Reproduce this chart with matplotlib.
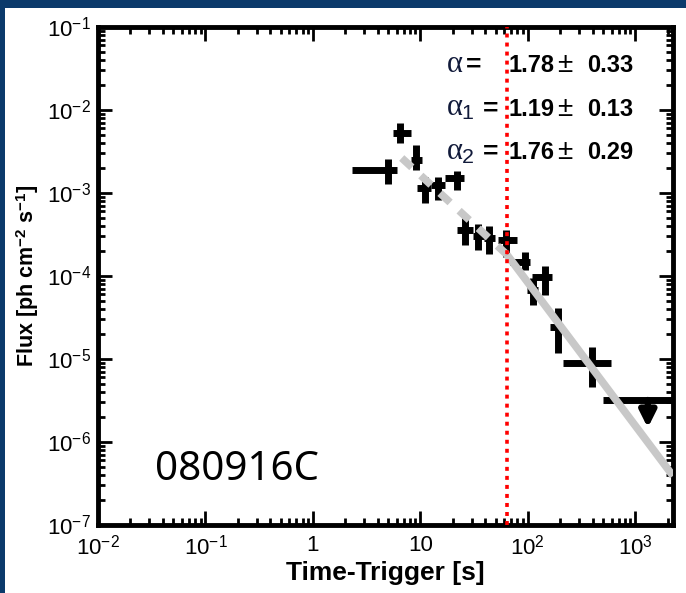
import numpy as np
import matplotlib
matplotlib.use('Agg')
import matplotlib.pyplot as plt
from matplotlib.patches import Rectangle
from matplotlib.ticker import FixedLocator, FixedFormatter, LogLocator, NullFormatter

plt.rcParams['font.family'] = ['Liberation Sans', 'DejaVu Sans']
plt.rcParams['mathtext.fontset'] = 'custom'
plt.rcParams['mathtext.rm'] = 'Liberation Sans'
plt.rcParams['mathtext.bf'] = 'Liberation Sans:bold'
plt.rcParams['mathtext.it'] = 'Liberation Serif'

# flux points: time bin (center, low, high) and flux (value, low, high)
t_mid = [4.99, 6.44, 9.08, 11.0, 14.6, 21.9, 25.9, 34.3, 43.4, 62.4, 93.8, 111, 144, 190, 394]
t_lo = [2.31, 5.55, 8.17, 9.27, 12.5, 16.9, 21.9, 30.8, 39.0, 52.6, 68.1, 98, 109, 160, 212]
t_hi = [6.04, 8.17, 10.3, 12.5, 16.9, 25.4, 30.8, 39.0, 49.3, 79.1, 104, 124, 167, 212, 592]
flux = [1.89e-3, 5.28e-3, 2.50e-3, 1.15e-3, 1.25e-3, 1.52e-3, 3.58e-4, 3.03e-4, 2.87e-4,
        2.72e-4, 1.48e-4, 6.8e-5, 9.7e-5, 2.43e-5, 8.95e-6]
flux_lo = [1.28e-3, 4.0e-3, 1.89e-3, 7.6e-4, 8.2e-4, 1.09e-3, 2.36e-4, 2.06e-4, 1.84e-4,
           1.69e-4, 1.18e-4, 4.5e-5, 5.9e-5, 1.18e-5, 4.6e-6]
flux_hi = [2.57e-3, 6.97e-3, 3.79e-3, 1.56e-3, 1.56e-3, 1.84e-3, 5.0e-4, 4.24e-4, 4.0e-4,
           3.58e-4, 1.95e-4, 9.5e-5, 1.32e-4, 4.11e-5, 1.40e-5]

# last bin is an upper limit
ul_t, ul_lo, ul_hi = 1306, 499, 2500
ul_flux, ul_arrow_to = 3.21e-6, 1.48e-6

# broken power-law fit, break at the red line
t_break = 63.8
fit1_t = [6.7, t_break]
fit1_f = [2.64e-3, 1.81e-4]
fit2_t = [t_break, 2240]
fit2_f = [1.81e-4, 3.9e-7]

fit_names = [r'$\alpha$', r'$\alpha_{1}$', r'$\alpha_{2}$']
fit_values = ['1.78', '1.19', '1.76']
fit_errors = ['0.33', '0.13', '0.29']

x_ticks = [1e-2, 1e-1, 1, 10, 1e2, 1e3]
x_tick_labels = [r'$10^{-2}$', r'$10^{-1}$', '1', '10', r'$10^{2}$', r'$10^{3}$']
y_ticks = [1e-7, 1e-6, 1e-5, 1e-4, 1e-3, 1e-2, 1e-1]
y_tick_labels = [r'$10^{-7}$', r'$10^{-6}$', r'$10^{-5}$', r'$10^{-4}$', r'$10^{-3}$',
                 r'$10^{-2}$', r'$10^{-1}$']

W, H = 686, 593
fig = plt.figure(figsize=(W / 100, H / 100), dpi=100, facecolor='#0b3a6b')
fig.patches.append(Rectangle((5 / W, 0), 1, (H - 8) / H, transform=fig.transFigure,
                             facecolor='white', edgecolor='none', zorder=-1))

ax = fig.add_axes([98 / W, 1 - 525 / H, 575 / W, 498 / H])
ax.set_zorder(2)
ax.set_xscale('log')
ax.set_yscale('log')
ax.set_xlim(1e-2, 2240)
ax.set_ylim(1e-7, 1e-1)

t_mid_a = np.array(t_mid)
flux_a = np.array(flux)
xerr = [t_mid_a - np.array(t_lo), np.array(t_hi) - t_mid_a]
yerr = [flux_a - np.array(flux_lo), np.array(flux_hi) - flux_a]
ax.errorbar(t_mid, flux, xerr=xerr, yerr=yerr, fmt='none', ecolor='black',
            elinewidth=5, capsize=0, zorder=3)

# upper limit
ax.errorbar([ul_t], [ul_flux], xerr=[[ul_t - ul_lo], [ul_hi - ul_t]], fmt='none',
            ecolor='black', elinewidth=5, capsize=0, zorder=3)
ax.annotate('', xy=(ul_t, ul_arrow_to), xytext=(ul_t, ul_flux),
            arrowprops=dict(arrowstyle='-|>', color='black', lw=4.5, mutation_scale=24,
                            shrinkA=0, shrinkB=0), zorder=3)

# fit lines
ax.plot(fit1_t, fit1_f, color='#c8c8c8', lw=5.5, linestyle=(0, (1.8, 1.6)),
        solid_capstyle='butt', zorder=4)
ax.plot(fit2_t, fit2_f, color='#c8c8c8', lw=5.5, solid_capstyle='butt', zorder=4)

ax.axvline(t_break, color='red', lw=2.6, linestyle=(0, (1.1, 1.4)), zorder=5)

# fit results, one row per index
def ax_x(px):
    return (px - 98) / 575

def ax_y(py):
    return (525 - py) / 498

row_baselines = [72, 116, 159]
eq_x = [466, 483, 483]
for name, val, err, yb, ex in zip(fit_names, fit_values, fit_errors, row_baselines, eq_x):
    y = ax_y(yb)
    ax.text(ax_x(446), y, name, transform=ax.transAxes, fontsize=22,
            color='#111a3a', va='baseline', ha='left', zorder=6)
    ax.text(ax_x(ex), y, '=', transform=ax.transAxes, fontsize=19,
            fontweight='bold', va='baseline', ha='left', zorder=6)
    ax.text(ax_x(509), y, val, transform=ax.transAxes, fontsize=17,
            fontweight='bold', va='baseline', ha='left', zorder=6)
    ax.text(ax_x(557), y, r'$\pm$', transform=ax.transAxes, fontsize=20,
            va='baseline', ha='left', zorder=6)
    ax.text(ax_x(587), y, err, transform=ax.transAxes, fontsize=17,
            fontweight='bold', va='baseline', ha='left', zorder=6)

ax.text(ax_x(155), ax_y(480), '080916C', transform=ax.transAxes, fontsize=29,
        family='Noto Sans', va='baseline', ha='left')

for s in ax.spines.values():
    s.set_linewidth(3.5)

ax.xaxis.set_major_locator(FixedLocator(x_ticks))
ax.xaxis.set_major_formatter(FixedFormatter(x_tick_labels))
ax.xaxis.set_minor_locator(LogLocator(base=10, subs=np.arange(2, 10), numticks=20))
ax.xaxis.set_minor_formatter(NullFormatter())
ax.yaxis.set_major_locator(FixedLocator(y_ticks))
ax.yaxis.set_major_formatter(FixedFormatter(y_tick_labels))
ax.yaxis.set_minor_locator(LogLocator(base=10, subs=np.arange(2, 10), numticks=20))
ax.yaxis.set_minor_formatter(NullFormatter())

ax.tick_params(which='both', direction='in', top=True, right=True, width=2)
ax.tick_params(which='major', length=10, labelsize=16)
ax.tick_params(axis='y', which='major', pad=5)
ax.tick_params(axis='x', which='major', pad=7)
ax.tick_params(which='minor', length=5)

ax.set_xlabel('Time-Trigger [s]', fontsize=19, fontweight='bold', labelpad=1)
ax.set_ylabel(r'Flux [ph cm$^{\mathbf{-2}}$ s$^{\mathbf{-1}}$]', fontsize=15.5,
              fontweight='bold', labelpad=4)

fig.savefig('out.png', dpi=100, facecolor=fig.get_facecolor())
